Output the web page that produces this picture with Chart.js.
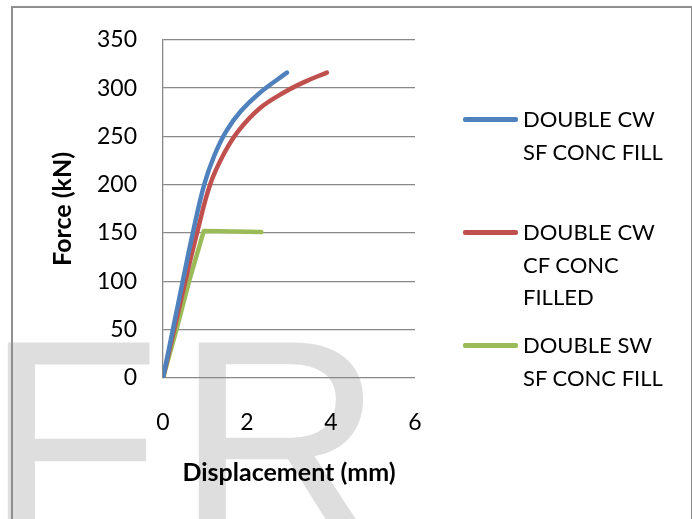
<!DOCTYPE html>
<html>
<head>
<meta charset="utf-8">
<script src="https://cdn.jsdelivr.net/npm/chart.js@4/dist/chart.umd.min.js"></script>
<style>
    body { margin: 0; background: #fff; }
    #wrap { position: relative; width: 692px; height: 519px; overflow: hidden; background: #fff; }
    .mark { position: absolute; top: 296px; font-family: "Liberation Sans", Arial, sans-serif; font-size: 290px; line-height: 1; color: #dedede; }
    #frame { position: absolute; left: 11px; top: 6px; width: 678px; height: 600px; border: 2px solid #8f8f8f; }
    #chart { position: absolute; left: 0; top: 0; }
    .item { position: absolute; left: 463px; }
    .swatch { position: absolute; left: 0; top: 14px; width: 55px; height: 4.5px; border-radius: 2px; }
    .text { position: absolute; left: 60px; width: 170px; font-family: Lato, sans-serif; font-size: 22px; line-height: 32.5px; color: #000; white-space: nowrap; }
</style>
</head>
<body>
<div id="wrap">
    <div class="mark" style="left:-16px">F</div>
    <div class="mark" style="left:175px">R</div>
    <div id="frame"></div>
    <canvas id="chart" width="692" height="519"></canvas>
    <div id="legend"></div>
</div>
<script>
const legendLines = [['DOUBLE CW', 'SF CONC FILL'], ['DOUBLE CW', 'CF CONC', 'FILLED'], ['DOUBLE SW', 'SF CONC FILL']];
const colors = ['#4f81bd', '#c0504d', '#9bbb59'];
const legendTops = [103, 216, 329];

// displacement (mm) / force (kN)
const cwSfX = [0, 0.47, 0.71, 0.98, 1.22, 1.50, 1.85, 2.30, 2.95];
const cwSfY = [0, 100, 150, 200, 230, 255, 276, 295, 316];
const cwCfX = [0, 0.53, 0.81, 1.12, 1.45, 1.80, 2.30, 2.90, 3.40, 3.90];
const cwCfY = [0, 100, 150, 200, 232, 256, 279, 296, 307, 316];
const swSfX = [0, 0.32, 0.62, 0.97, 2.34];
const swSfY = [0, 50, 100, 152, 151];

const xTicks = [0, 2, 4, 6];
const yTicks = [0, 50, 100, 150, 200, 250, 300, 350];

function pts(xs, ys) {
    return xs.map((x, i) => ({ x: x, y: ys[i] }));
}

const series = [pts(cwSfX, cwSfY), pts(cwCfX, cwCfY), pts(swSfX, swSfY)];

const datasets = series.map((data, i) => ({
    label: legendLines[i].join(' '),
    data: data,
    showLine: true,
    borderColor: colors[i],
    backgroundColor: colors[i],
    borderWidth: 4.5,
    borderCapStyle: 'round',
    borderJoinStyle: 'round',
    pointRadius: 0,
    tension: i === 2 ? 0 : 0.4
}));

const tickFont = { family: 'Lato', size: 23 };
const titleFont = { family: 'Lato', size: 25, weight: 'bold' };

new Chart(document.getElementById('chart'), {
    type: 'scatter',
    data: { datasets: datasets },
    options: {
        responsive: false,
        animation: false,
        layout: { padding: { top: 37, right: 277, bottom: 0, left: 0 } },
        plugins: { legend: { display: false }, tooltip: { enabled: false } },
        scales: {
            x: {
                type: 'linear',
                min: 0,
                max: 6,
                afterFit: s => { s.height = 141; },
                afterBuildTicks: s => { s.ticks = xTicks.map(v => ({ value: v })); },
                ticks: { font: tickFont, color: '#000', padding: 31, maxRotation: 0 },
                grid: { display: false, drawTicks: false },
                border: { display: false },
                title: { display: true, text: 'Displacement (mm)', font: titleFont, color: '#000', padding: { top: 0, bottom: 31 } }
            },
            y: {
                min: 0,
                max: 350,
                afterFit: s => { s.width = 163; },
                afterBuildTicks: s => { s.ticks = yTicks.map(v => ({ value: v })); },
                ticks: { font: tickFont, color: '#000', padding: 26 },
                grid: { color: '#888', lineWidth: 1.3, drawTicks: false },
                border: { display: true, color: '#888', width: 1.3 },
                title: { display: true, text: 'Force (kN)', font: titleFont, color: '#000', padding: { top: 48, bottom: 0 } }
            }
        }
    }
});

const legend = document.getElementById('legend');
legendLines.forEach((lines, i) => {
    const item = document.createElement('div');
    item.className = 'item';
    item.style.top = legendTops[i] + 'px';
    item.innerHTML = '<div class="swatch" style="background:' + colors[i] + '"></div>' +
        '<div class="text">' + lines.join('<br>') + '</div>';
    legend.appendChild(item);
});
</script>
</body>
</html>
